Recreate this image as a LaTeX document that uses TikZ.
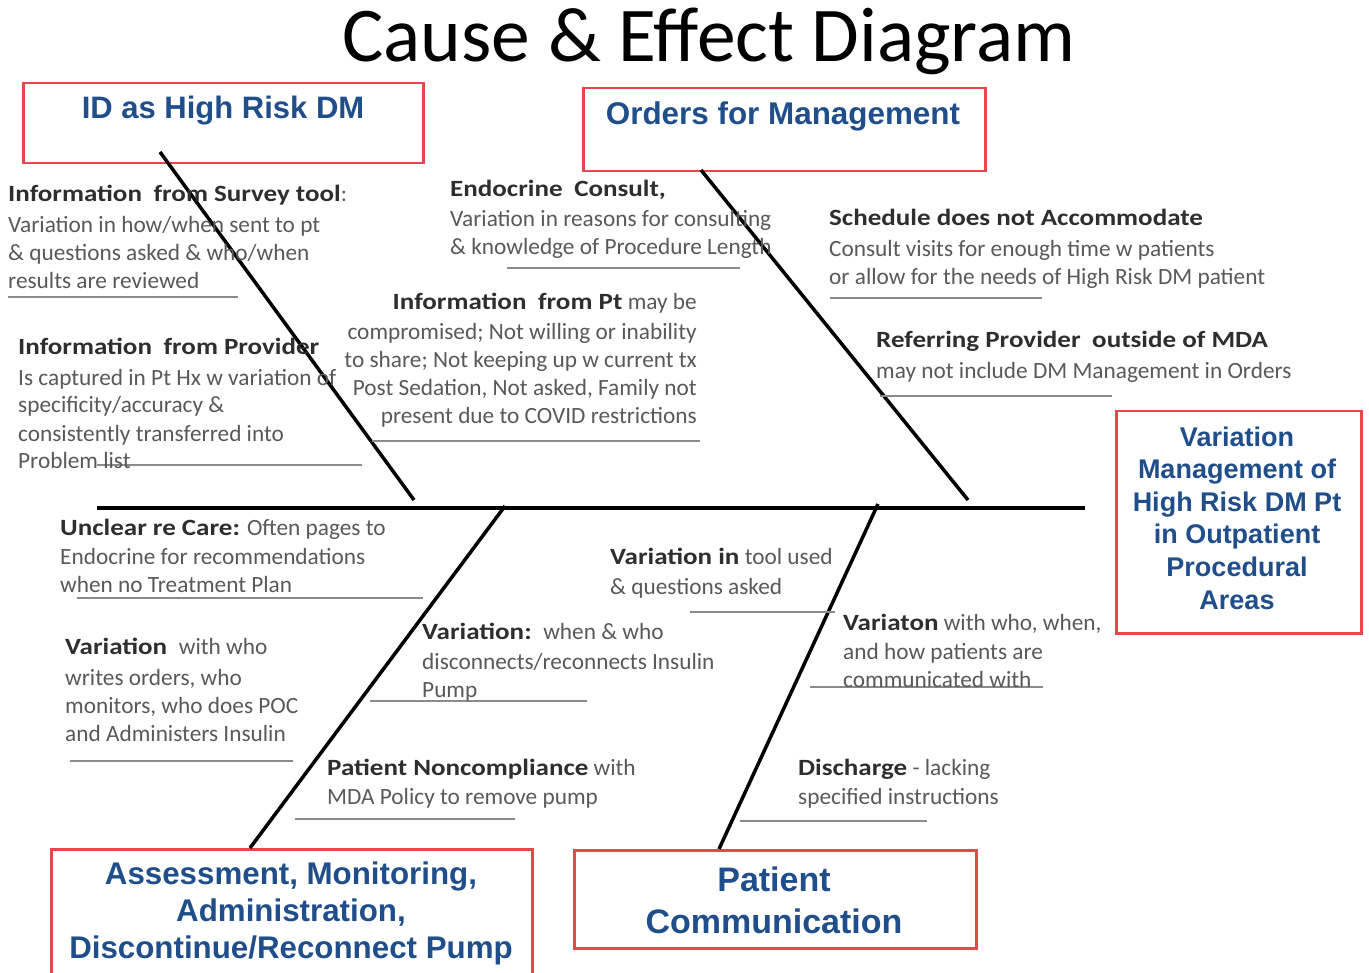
\documentclass[tikz,border=0pt]{standalone}
\usepackage{fontspec}
\setmainfont{Carlito}
\newfontfamily\arialf{Liberation Sans}
\newfontfamily\hdfont{Carlito}[FakeStretch=1.16]
\definecolor{boxred}{HTML}{E5474B}
\definecolor{boxblue}{HTML}{1F4E8A}
\definecolor{bodygray}{HTML}{595959}
\definecolor{headgray}{HTML}{2E2E2E}
\definecolor{ulgray}{HTML}{8A8A8A}
\newcommand\hdr[1]{{\hdfont\bfseries\color{headgray}#1}}
\begin{document}
\begin{tikzpicture}[x=1pt,y=-1pt,
  causebox/.style={draw=boxred, line width=2.5pt, anchor=north west, inner sep=0pt},
  boxtext/.style={font=\arialf\bfseries\fontsize{31}{37}\selectfont, text=boxblue, align=center, inner sep=0pt},
  note/.style={anchor=base west, inner sep=0pt, align=left, font=\fontsize{23.3}{28}\selectfont, text=bodygray},
  noter/.style={note, anchor=base east, align=right},
  bone/.style={line width=3.5pt, black},
  spine/.style={line width=4.5pt, black},
  uline/.style={line width=1.5pt, ulgray}]
\useasboundingbox[fill=white] (0,0) rectangle (1369,973);

% title
\node[anchor=base, inner sep=0pt, font=\fontsize{77.5}{80}\selectfont] (title) at (709,62) {Cause \& Effect Diagram};

% boxes
\node[causebox, minimum width=400pt, minimum height=80pt] (idbox) at (22,82) {};
\node[causebox, minimum width=402pt, minimum height=83pt] (ordbox) at (582,87) {};
\node[causebox, minimum width=245pt, minimum height=222pt] (effbox) at (1115,410) {};
\node[causebox, minimum width=481pt, minimum height=135pt] (assbox) at (50,848) {};
\node[causebox, minimum width=402pt, minimum height=98pt] (combox) at (573,849) {};

\node[boxtext] (idtxt) at (223,111) {ID as High Risk DM};
\node[boxtext, font=\arialf\bfseries\fontsize{31.4}{37}\selectfont] (ordtxt) at (783,116) {Orders for Management};
\node[boxtext, font=\arialf\bfseries\fontsize{27}{32.6}\selectfont] (efftxt) at (1237,518) {Variation\\Management of\\High Risk DM Pt\\in Outpatient\\Procedural\\Areas};
\node[boxtext, font=\arialf\bfseries\fontsize{31.3}{37}\selectfont] (asstxt) at (291,913) {Assessment, Monitoring,\\Administration,\\Discontinue/Reconnect Pump};
\node[boxtext, font=\arialf\bfseries\fontsize{34}{42}\selectfont] (comtxt) at (774,900) {Patient\\Communication};

% spine and bones
\coordinate (sp0) at (97,508);
\coordinate (sp1) at (1085,508);
\draw[spine] (sp0) -- (sp1);
\coordinate (b1top) at (160,152);
\coordinate (b1end) at (414,500);
\coordinate (b2top) at (701,170);
\coordinate (b2end) at (968,500);
\coordinate (b3top) at (505,506);
\coordinate (b3end) at (250,848);
\coordinate (b4top) at (878,504);
\coordinate (b4end) at (719,849);
\draw[bone] (b1top) -- (b1end);
\draw[bone] (b2top) -- (b2end);
\draw[bone] (b3top) -- (b3end);
\draw[bone] (b4top) -- (b4end);

% underlines
\draw[uline] (8,297) -- (238,297);
\draw[uline] (97,465) -- (362,465);
\draw[uline] (507,268) -- (740,268);
\draw[uline] (372,441) -- (700,441);
\draw[uline] (830,298) -- (1042,298);
\draw[uline] (880,396) -- (1112,396);
\draw[uline] (77,598) -- (423,598);
\draw[uline] (70,761) -- (293,761);
\draw[uline] (370,701) -- (587,701);
\draw[uline] (690,612) -- (835,612);
\draw[uline] (295,819) -- (515,819);
\draw[uline] (810,687) -- (1043,687);
\draw[uline] (740,821) -- (927,821);

% cause notes (anchored at the baseline of their last line)
\node[note] (n1) at (8,289) {\hdr{Information\enspace from Survey tool}:\\[3pt]Variation in how/when sent to pt\\\& questions asked \& who/when\\results are reviewed};
\node[note] (n2) at (18,469) {\hdr{Information\enspace from Provider}\\[3pt]Is captured in Pt Hx w variation of\\specificity/accuracy \&\\consistently transferred into\\Problem list};
\node[note] (n3) at (450,255) {\hdr{Endocrine\enspace Consult,}\\[2pt]Variation in reasons for consulting\\\& knowledge of Procedure Length};
\node[noter] (n4) at (697,424) {\hdr{Information\enspace from Pt} may be\\[2pt]compromised; Not willing or inability\\to share; Not keeping up w current tx\\Post Sedation, Not asked, Family not\\present due to COVID restrictions};
\node[note] (n5) at (829,285) {\hdr{Schedule does not Accommodate}\\[3pt]Consult visits for enough time w patients\\or allow for the needs of High Risk DM patient};
\node[note] (n6) at (876,379) {\hdr{Referring Provider\enspace outside of MDA}\\[3pt]may not include DM Management in Orders};
\node[note] (n7) at (60,592) {\hdr{Unclear re Care:} Often pages to\\[1pt]Endocrine for recommendations\\when no Treatment Plan};
\node[note] (n8) at (65,741) {\hdr{Variation}\enspace with who\\[3pt]writes orders, who\\monitors, who does POC\\and Administers Insulin};
\node[note] (n9) at (422,697) {\hdr{Variation:}\enspace when \& who\\[2pt]disconnects/reconnects Insulin\\Pump};
\node[note] (n10) at (610,594) {\hdr{Variation in} tool used\\[2pt]\& questions asked};
\node[note] (n11) at (843,687) {\hdr{Variaton} with who, when,\\[1pt]and how patients are\\communicated with};
\node[note] (n12) at (327,804) {\hdr{Patient Noncompliance} with\\[1pt]MDA Policy to remove pump};
\node[note] (n13) at (798,804) {\hdr{Discharge} - lacking\\[1pt]specified instructions};
\end{tikzpicture}
\end{document}
